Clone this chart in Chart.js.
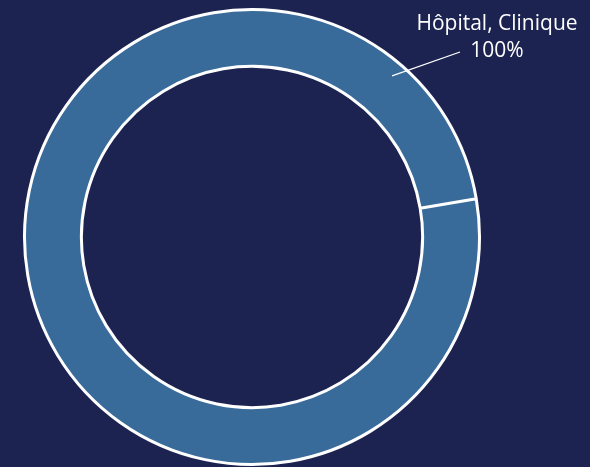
<!DOCTYPE html>
<html>
<head>
<meta charset="utf-8">
<script src="https://cdn.jsdelivr.net/npm/chart.js@4.4.1/dist/chart.umd.min.js"></script>
<style>
  html, body { margin: 0; padding: 0; background: #1c2350; }
  #wrap { width: 590px; height: 467px; position: relative; }
</style>
</head>
<body>
<div id="wrap"><canvas id="myChart"></canvas></div>
<script>
let labels = ["Hôpital, Clinique"]
let values = [100]
let pctLabels = ["100%"]

// label with a leader line, like the original
let calloutPlugin = {
  id: "callout",
  afterDatasetsDraw(chart) {
    let ctx = chart.ctx
    let arc = chart.getDatasetMeta(0).data[0]
    let r = arc.outerRadius - 14
    let a = (-90 + 41) * Math.PI / 180
    let x0 = arc.x + Math.cos(a) * r
    let y0 = arc.y + Math.sin(a) * r
    ctx.save()
    ctx.strokeStyle = "#ffffff"
    ctx.lineWidth = 1.3
    ctx.beginPath()
    ctx.moveTo(x0, y0)
    ctx.lineTo(460, 52)
    ctx.stroke()
    ctx.fillStyle = "#ffffff"
    ctx.font = "21px 'Open Sans', 'Liberation Sans', sans-serif"
    ctx.textAlign = "center"
    ctx.textBaseline = "alphabetic"
    ctx.fillText(labels[0], 497, 30)
    ctx.fillText(pctLabels[0], 497, 57)
    ctx.restore()
  }
}

let ctx = document.getElementById("myChart")
let myChart = new Chart(ctx, {
  type: "doughnut",
  data: {
    labels: labels,
    datasets: [{
      data: values,
      backgroundColor: ["#386a9a"],
      borderColor: "#ffffff",
      borderWidth: 3,
      hoverOffset: 0
    }]
  },
  options: {
    responsive: true,
    maintainAspectRatio: false,
    animation: false,
    rotation: 80.3,
    cutout: "75%",
    layout: { padding: { left: 23, right: 109, top: 8, bottom: 1 } },
    plugins: {
      legend: { display: false },
      tooltip: { enabled: false }
    }
  },
  plugins: [calloutPlugin]
})
</script>
</body>
</html>
